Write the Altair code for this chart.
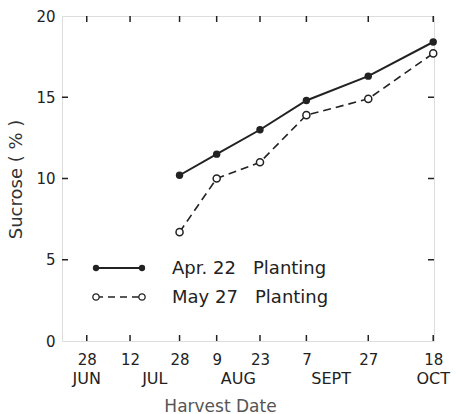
import altair as alt
import pandas as pd

# ---- data ----
harvest_dates = ["1980-07-28", "1980-08-09", "1980-08-23", "1980-09-07", "1980-09-27", "1980-10-18"]
apr22_sucrose = [10.2, 11.5, 13.0, 14.8, 16.3, 18.4]
may27_sucrose = [6.7, 10.0, 11.0, 13.9, 14.9, 17.7]
series_names = ["Apr. 22\u00a0\u00a0\u00a0Planting", "May 27\u00a0\u00a0\u00a0Planting"]

tick_dates = ["1980-06-28", "1980-07-12", "1980-07-28", "1980-08-09",
              "1980-08-23", "1980-09-07", "1980-09-27", "1980-10-18"]
month_names = ["JUN", "JUL", "AUG", "SEPT", "OCT"]
month_dates = ["1980-06-28", "1980-07-20", "1980-08-16", "1980-09-15", "1980-10-18"]
y_tick_values = [0, 5, 10, 15, 20]

W, H = 372, 325
INK = "#222222"
FONT = "DejaVu Sans"


def local(s):
    return s + "T00:00:00"


def dt(s, hours=0):
    y, m, d = (int(p) for p in s.split("-"))
    return alt.DateTime(year=y, month=m, date=d, hours=hours)


df = pd.DataFrame({
    "date": [local(d) for d in harvest_dates] * 2,
    "sucrose": apr22_sucrose + may27_sucrose,
    "series": [series_names[0]] * len(harvest_dates) + [series_names[1]] * len(harvest_dates),
})
ticks_df = pd.DataFrame({"date": [local(d) for d in tick_dates]})
months_df = pd.DataFrame({"date": [local(d) for d in month_dates], "month": month_names})
yticks_df = pd.DataFrame({"sucrose": y_tick_values[1:-1]})

x_scale = alt.Scale(domain=[dt("1980-06-20"), dt("1980-10-18", hours=6)])
y_scale = alt.Scale(domain=[0, 20], nice=False)


def X():
    return alt.X(
        "date:T",
        scale=x_scale,
        axis=alt.Axis(
            values=[dt(d) for d in tick_dates],
            format="%-d",
            title="Harvest Date",
            titleX=158,
            titleY=70,
            titleAlign="center",
            titleBaseline="alphabetic",
            titleFontSize=17,
            titleFontWeight="normal",
            titleColor="#555555",
            labelFontSize=15,
            labelColor=INK,
            labelPadding=11,
            labelBaseline="top",
            labelFlush=False,
            labelOverlap=False,
            ticks=False,
            tickSize=0,
            domain=False,
            grid=False,
        ),
    )


def Y():
    return alt.Y(
        "sucrose:Q",
        scale=y_scale,
        axis=alt.Axis(
            values=y_tick_values,
            title="Sucrose ( % )",
            titleAngle=-90,
            titleX=-46,
            titleY=163,
            titleAlign="center",
            titleBaseline="middle",
            titleFontSize=18,
            titleFontWeight="normal",
            titleColor="#333333",
            labelFontSize=15,
            labelColor=INK,
            labelPadding=7,
            labelFlush=False,
            ticks=False,
            tickSize=0,
            domain=False,
            grid=False,
        ),
    )


base = alt.Chart(df)

line_apr = base.transform_filter(alt.datum.series == series_names[0]).mark_line(
    color=INK, strokeWidth=2
).encode(x=X(), y=Y())
line_may = base.transform_filter(alt.datum.series == series_names[1]).mark_line(
    color=INK, strokeWidth=1.6, strokeDash=[8, 5]
).encode(x=X(), y=Y())
pts_apr = base.transform_filter(alt.datum.series == series_names[0]).mark_point(
    shape="circle", filled=True, fill=INK, color=INK, size=55, opacity=1
).encode(x=X(), y=Y())
pts_may = base.transform_filter(alt.datum.series == series_names[1]).mark_point(
    shape="circle", filled=True, fill="white", stroke=INK, strokeWidth=1.5, size=50, opacity=1
).encode(x=X(), y=Y())

# inward ticks on all four sides
xt_bottom = alt.Chart(ticks_df).mark_rule(color=INK, strokeWidth=1.5).encode(
    x=X(), y=alt.value(H), y2=alt.value(H - 6))
xt_top = alt.Chart(ticks_df).mark_rule(color=INK, strokeWidth=1.5).encode(
    x=X(), y=alt.value(0), y2=alt.value(6))
yt_left = alt.Chart(yticks_df).mark_rule(color=INK, strokeWidth=1.5).encode(
    y=Y(), x=alt.value(0), x2=alt.value(6))
yt_right = alt.Chart(yticks_df).mark_rule(color=INK, strokeWidth=1.5).encode(
    y=Y(), x=alt.value(W - 6), x2=alt.value(W))

# month names under the day numbers
months = alt.Chart(months_df).mark_text(
    font=FONT, fontSize=16, color=INK, baseline="top", align="center"
).encode(x=X(), y=alt.value(H + 30), text="month:N")

# hand-drawn style legend inside the plot
legend_layers = []
for i, name in enumerate(series_names):
    ly = 252 + 29 * i
    ldf = pd.DataFrame({"name": [name]})
    lc = alt.Chart(ldf)
    if i == 0:
        rule = lc.mark_rule(color=INK, strokeWidth=2)
        dot = dict(shape="circle", filled=True, fill=INK, color=INK, size=40, opacity=1)
    else:
        rule = lc.mark_rule(color=INK, strokeWidth=1.5, strokeDash=[7, 5])
        dot = dict(shape="circle", filled=True, fill="white", stroke=INK, strokeWidth=1.3, size=40, opacity=1)
    legend_layers.append(rule.encode(x=alt.value(34), x2=alt.value(80), y=alt.value(ly)))
    legend_layers.append(lc.mark_point(**dot).encode(x=alt.value(34), y=alt.value(ly)))
    legend_layers.append(lc.mark_point(**dot).encode(x=alt.value(80), y=alt.value(ly)))
    legend_layers.append(lc.mark_text(
        font=FONT, fontSize=18, color=INK, align="left", baseline="middle"
    ).encode(x=alt.value(110), y=alt.value(ly + 1), text="name:N"))

chart = alt.layer(
    line_apr, line_may, pts_apr, pts_may,
    xt_bottom, xt_top, yt_left, yt_right, months,
    *legend_layers,
).properties(
    width=W,
    height=H,
    autosize=alt.AutoSizeParams(type="none"),
    padding={"left": 62, "top": 16, "right": 23, "bottom": 73},
    background="white",
).configure_view(
    stroke="#333333", strokeWidth=2
).configure(
    font=FONT
)

chart.save("out.html", embed_options={"renderer": "svg", "actions": False})
